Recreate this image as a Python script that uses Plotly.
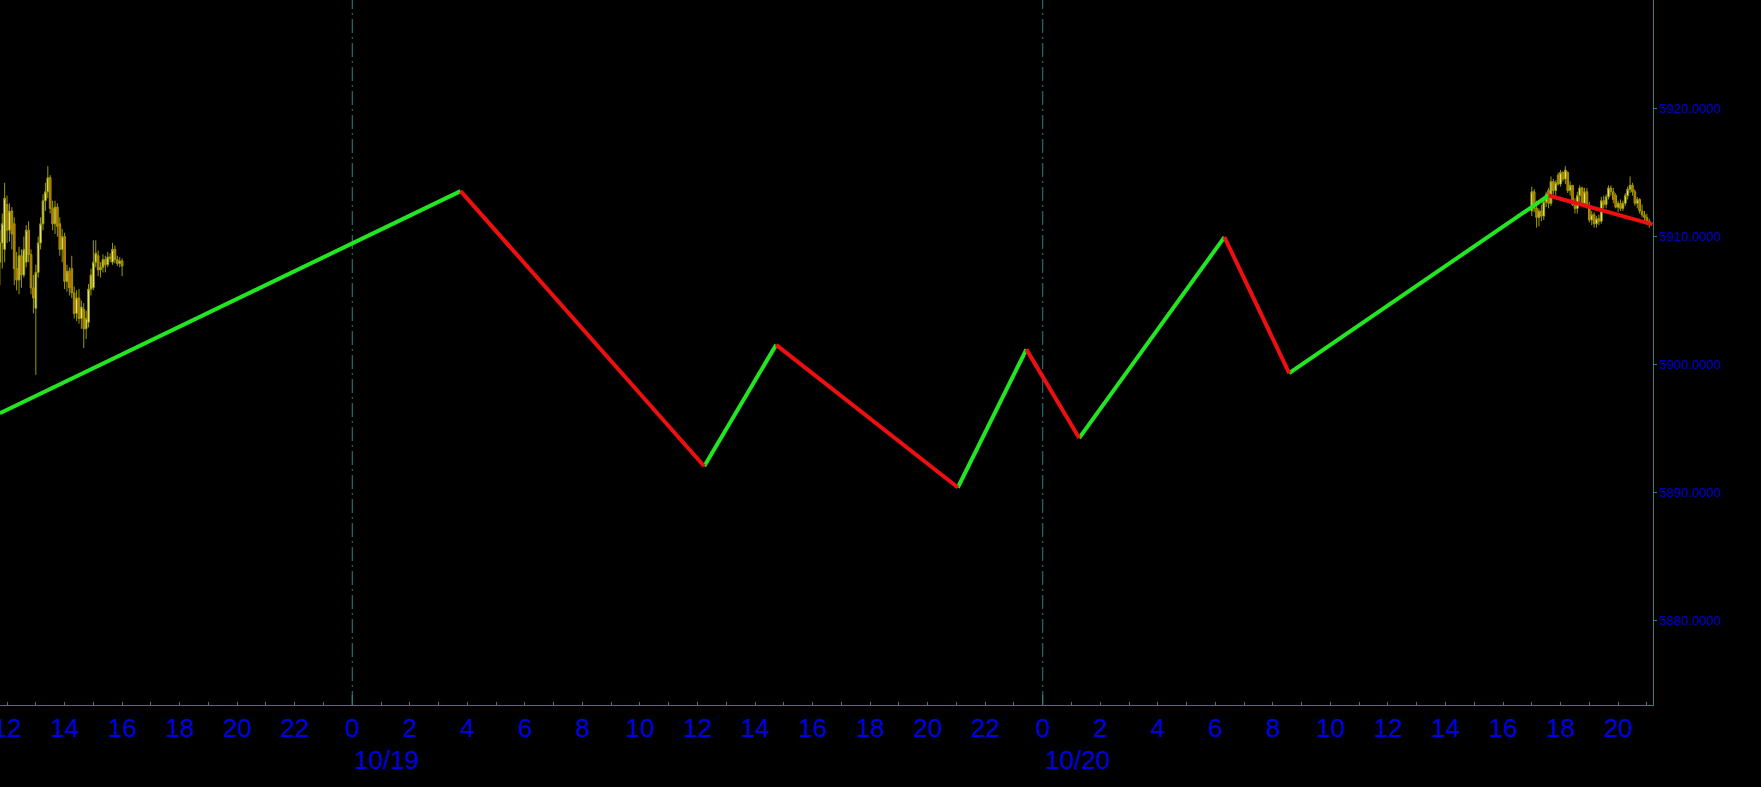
import plotly.graph_objects as go
import pandas as pd

# ---------------- data ----------------
# ZigZag pivots (time, price)
zz_times = ["2023-10-18 11:45", "2023-10-19 03:46", "2023-10-19 12:14", "2023-10-19 14:44",
            "2023-10-19 21:03", "2023-10-19 23:26", "2023-10-20 01:16", "2023-10-20 06:19",
            "2023-10-20 08:34", "2023-10-20 17:35", "2023-10-20 21:12"]
zz_values = [5896.2, 5913.55, 5892.06, 5901.54, 5890.4, 5901.19, 5894.26, 5909.96,
             5899.34, 5913.21, 5910.95]

# 5-minute candles, session 1 (10/18 from 11:45)
s1_start = "2023-10-18 11:45"
s1_open = [5908.0, 5909.5, 5909.0, 5912.5, 5910.5, 5912.0, 5911.0, 5907.5, 5906.6, 5908.5,
           5907.0, 5908.0, 5910.5, 5908.6, 5906.0, 5904.4, 5907.2, 5909.5, 5911.0, 5912.8,
           5913.5, 5914.6, 5912.2, 5911.0, 5912.3, 5911.0, 5909.0, 5910.0, 5906.5, 5907.3,
           5907.5, 5905.6, 5904.0, 5905.2, 5903.6, 5904.3, 5902.8, 5903.3, 5905.9, 5906.0,
           5908.0, 5908.5, 5907.4, 5907.6, 5908.2, 5907.8, 5908.4, 5908.0, 5909.0, 5908.2,
           5907.9, 5908.1]
s1_high = [5910.5, 5911.8, 5914.2, 5913.2, 5912.6, 5912.3, 5911.5, 5908.8, 5909.2, 5909.0,
           5910.0, 5910.9, 5911.2, 5909.0, 5907.0, 5907.8, 5910.0, 5911.5, 5913.3, 5914.2,
           5915.5, 5914.8, 5912.8, 5912.8, 5912.6, 5911.5, 5910.6, 5910.3, 5907.8, 5907.6,
           5908.5, 5906.1, 5905.8, 5905.9, 5905.0, 5904.8, 5904.2, 5906.3, 5907.5, 5909.7,
           5909.7, 5908.9, 5908.0, 5908.6, 5908.5, 5908.8, 5908.7, 5909.5, 5909.3, 5908.5,
           5908.4, 5908.3]
s1_low = [5906.2, 5907.5, 5908.0, 5909.5, 5909.6, 5909.0, 5906.2, 5905.8, 5905.5, 5906.0,
          5906.8, 5907.6, 5908.0, 5905.5, 5904.0, 5899.2, 5906.8, 5909.0, 5910.5, 5912.0,
          5913.0, 5911.8, 5910.5, 5910.2, 5910.0, 5908.5, 5908.0, 5905.9, 5905.7, 5905.4,
          5905.2, 5903.6, 5903.4, 5903.2, 5902.8, 5901.3, 5902.0, 5902.9, 5905.4, 5905.8,
          5907.6, 5906.9, 5906.8, 5907.2, 5907.2, 5907.6, 5908.0, 5907.8, 5907.9, 5907.7,
          5907.6, 5906.9]
s1_close = [5909.5, 5911.0, 5913.0, 5910.5, 5912.0, 5910.2, 5907.5, 5906.6, 5908.5, 5907.0,
            5909.0, 5910.5, 5908.6, 5906.0, 5905.2, 5907.2, 5909.5, 5911.0, 5912.8, 5913.5,
            5914.6, 5912.2, 5911.0, 5912.3, 5910.8, 5909.0, 5910.0, 5906.5, 5907.3, 5906.0,
            5905.6, 5904.0, 5905.2, 5903.6, 5904.5, 5902.8, 5903.6, 5905.9, 5907.0, 5908.0,
            5908.7, 5907.4, 5907.6, 5908.2, 5907.8, 5908.4, 5908.3, 5909.0, 5908.2, 5907.9,
            5908.1, 5907.7]

# 5-minute candles, session 2 (10/20 from 17:00)
s2_start = "2023-10-20 17:00"
s2_open = [5912.0, 5913.5, 5912.2, 5911.5, 5912.0, 5911.6, 5912.7, 5913.6, 5912.6, 5914.3,
           5913.6, 5914.8, 5914.1, 5915.0, 5914.5, 5915.0, 5913.6, 5914.0, 5912.5, 5912.2,
           5913.2, 5913.8, 5912.6, 5913.5, 5912.4, 5911.3, 5911.7, 5911.0, 5911.4, 5911.2,
           5912.8, 5912.5, 5913.1, 5913.8, 5913.5, 5913.2, 5912.3, 5912.6, 5912.2, 5912.6,
           5913.2, 5913.7, 5914.0, 5913.5, 5912.6, 5912.9, 5912.0, 5911.7, 5911.5, 5911.1]
s2_high = [5913.9, 5913.7, 5912.8, 5912.2, 5912.5, 5912.9, 5913.5, 5913.8, 5914.7, 5914.5,
           5914.4, 5915.0, 5915.2, 5915.1, 5915.5, 5915.1, 5914.3, 5914.0, 5913.0, 5913.5,
           5914.0, 5913.9, 5913.8, 5913.8, 5912.7, 5912.0, 5911.9, 5911.6, 5911.7, 5913.1,
           5913.2, 5913.3, 5914.0, 5914.0, 5913.8, 5913.4, 5912.8, 5912.9, 5912.8, 5913.4,
           5913.9, 5914.7, 5914.2, 5913.7, 5913.1, 5913.0, 5912.5, 5912.0, 5911.8, 5911.4]
s2_low = [5911.6, 5911.9, 5910.7, 5910.8, 5911.2, 5911.3, 5912.3, 5912.2, 5912.4, 5913.3,
          5913.2, 5914.0, 5913.9, 5914.3, 5914.1, 5913.4, 5913.2, 5912.4, 5911.8, 5911.8,
          5912.6, 5912.4, 5912.3, 5912.2, 5911.1, 5910.9, 5910.7, 5910.7, 5910.9, 5911.0,
          5912.2, 5912.2, 5912.9, 5913.2, 5912.6, 5912.2, 5911.9, 5912.0, 5912.0, 5912.4,
          5912.9, 5913.4, 5913.2, 5912.4, 5912.2, 5911.8, 5911.5, 5911.2, 5910.9, 5910.7]
s2_close = [5913.5, 5912.2, 5911.5, 5912.0, 5911.6, 5912.7, 5913.3, 5912.6, 5914.3, 5913.6,
            5914.2, 5914.1, 5915.0, 5914.5, 5915.2, 5913.6, 5914.0, 5912.5, 5912.2, 5913.2,
            5913.8, 5912.6, 5913.5, 5912.4, 5911.3, 5911.7, 5911.0, 5911.4, 5911.2, 5912.8,
            5912.5, 5913.1, 5913.8, 5913.5, 5912.9, 5912.3, 5912.6, 5912.2, 5912.6, 5913.2,
            5913.7, 5914.0, 5913.5, 5912.6, 5912.9, 5912.0, 5911.7, 5911.5, 5911.1, 5911.2]

day_starts = ["2023-10-19 00:00", "2023-10-20 00:00"]
day_labels = ["10/19", "10/20"]
x_range = ["2023-10-18 11:45:18", "2023-10-20 21:12:48"]
y_range = [5873.41, 5928.48]
y_ticks = [5880, 5890, 5900, 5910, 5920]

# ---------------- styles ----------------
BG = "#000000"
AXIS = "#2A8282"
XLAB = "#0000E6"
YLAB = "#0000C8"
UP = "#22E622"
DN = "#EE1010"
WICK = "#9A9A00"

fig = go.Figure()

for start, o, h, l, c in [(s1_start, s1_open, s1_high, s1_low, s1_close),
                          (s2_start, s2_open, s2_high, s2_low, s2_close)]:
    t = pd.date_range(start, periods=len(o), freq="5min")
    fig.add_trace(go.Candlestick(
        x=t, open=o, high=h, low=l, close=c,
        increasing=dict(line=dict(color=WICK, width=1), fillcolor="#FFFFC8"),
        decreasing=dict(line=dict(color=WICK, width=1), fillcolor="#E05010"),
        whiskerwidth=0, showlegend=False, hoverinfo="skip"))

# zigzag: green rising legs, red falling legs
up_x, up_y, dn_x, dn_y = [], [], [], []
for i in range(len(zz_values) - 1):
    seg_x = [zz_times[i], zz_times[i + 1], None]
    seg_y = [zz_values[i], zz_values[i + 1], None]
    if zz_values[i + 1] > zz_values[i]:
        up_x += seg_x; up_y += seg_y
    else:
        dn_x += seg_x; dn_y += seg_y
fig.add_trace(go.Scatter(x=up_x, y=up_y, mode="lines", line=dict(color=UP, width=4),
                         showlegend=False, hoverinfo="skip", connectgaps=False))
fig.add_trace(go.Scatter(x=dn_x, y=dn_y, mode="lines", line=dict(color=DN, width=4),
                         showlegend=False, hoverinfo="skip", connectgaps=False))

# x ticks every 2 hours
tick_times = pd.date_range("2023-10-18 12:00", "2023-10-20 20:00", freq="2h")
tick_vals = list(tick_times)
tick_text = [str(t.hour) for t in tick_times]

shapes = []
annotations = []
for d, lab in zip(day_starts, day_labels):
    shapes.append(dict(type="line", xref="x", yref="paper", x0=d, x1=d, y0=0, y1=1,
                       line=dict(color=AXIS, width=1, dash="14px,4px,2px,4px"), layer="below"))
    shapes.append(dict(type="line", xref="x", yref="paper", x0=d, x1=d, y0=0, y1=10 / 705,
                       line=dict(color=AXIS, width=1), layer="above"))
    annotations.append(dict(x=d, xref="x", y=-55 / 705, yref="paper", text=lab,
                            showarrow=False, xanchor="left", yanchor="middle",
                            font=dict(family="Liberation Sans, Arial, sans-serif", size=26, color=XLAB)))

fig.update_layout(
    width=1761, height=787,
    margin=dict(l=0, r=108, t=0, b=82, autoexpand=False),
    paper_bgcolor=BG, plot_bgcolor=BG,
    showlegend=False, boxgap=0.0,
    shapes=shapes, annotations=annotations,
    xaxis=dict(type="date", range=x_range, rangeslider=dict(visible=False), automargin=False,
               showgrid=False, zeroline=False, showline=True, linecolor=AXIS, linewidth=1,
               tickmode="array", tickvals=tick_vals, ticktext=tick_text,
               ticks="inside", ticklen=3, tickcolor=AXIS, ticklabeloverflow="allow",
               minor=dict(ticks="inside", ticklen=3, tickcolor=AXIS, dtick=3600000,
                          tick0="2023-10-18 00:00"),
               tickfont=dict(family="Liberation Sans, Arial, sans-serif", size=26, color=XLAB)),
    yaxis=dict(side="right", range=y_range, showgrid=False, zeroline=False, automargin=False,
               showline=True, linecolor=AXIS, linewidth=1,
               tickmode="array", tickvals=y_ticks, ticktext=[f"{v:.4f}" for v in y_ticks],
               ticks="outside", ticklen=3, tickcolor=AXIS,
               tickfont=dict(family="Liberation Sans Narrow, Liberation Sans, Arial, sans-serif",
                             size=13, color=YLAB)),
)

fig.write_html("out.html", config={"displayModeBar": False},
               post_script="document.body.style.margin='0';document.body.style.background='#000';")
